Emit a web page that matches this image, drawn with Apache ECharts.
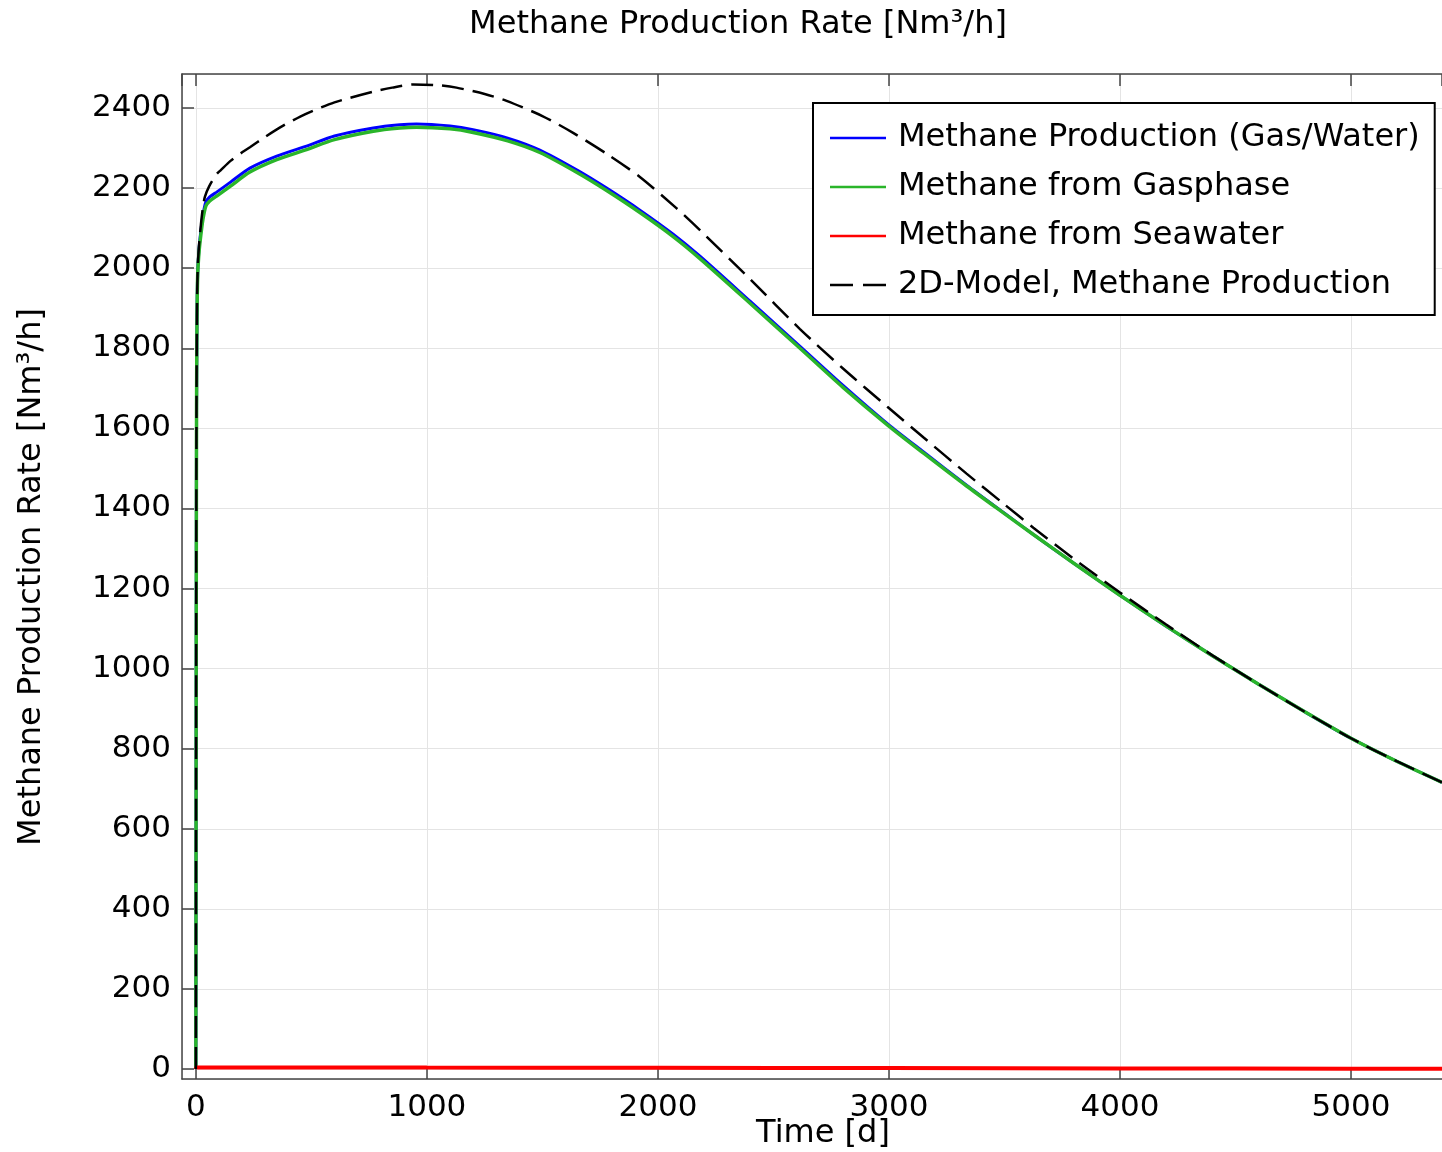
<!DOCTYPE html>
<html>
<head>
<meta charset="utf-8">
<title>Methane Production Rate</title>
<script src="https://cdn.jsdelivr.net/npm/echarts@6/dist/echarts.min.js"></script>
<style>
  html, body { margin: 0; padding: 0; background: #fff; }
  #chart { width: 1442px; height: 1152px; }
</style>
</head>
<body>
<div id="chart"></div>
<script>
// time [d] shared by the 1D curves (gas/water total and gasphase)
const days = [0, 1, 2, 3, 5, 8, 14, 22, 30, 43, 60, 90, 150, 234, 350, 479, 600, 768, 883, 955,
  1100, 1200, 1350, 1489, 1650, 1778, 1922, 2066, 2182, 2400, 2615, 2800, 2997, 3150, 3336,
  3500, 3625, 3800, 4000, 4200, 4400, 4600, 4800, 5000, 5200, 5394];
const gasWater = [0, 700, 1300, 1650, 1880, 1990, 2050, 2095, 2130, 2165, 2178, 2190, 2215, 2250, 2280, 2305, 2330, 2350, 2358, 2360,
  2355, 2346, 2325, 2295, 2245, 2200, 2145, 2085, 2030, 1917, 1805, 1708, 1610, 1541, 1458,
  1388, 1335, 1263, 1183, 1106, 1032, 961, 892, 826, 768, 716];
const gasphase = [0, 700, 1300, 1650, 1880, 1985, 2042, 2085, 2120, 2155, 2168, 2180, 2205, 2240, 2271, 2296, 2321, 2342, 2350, 2352,
  2348, 2339, 2318, 2289, 2239, 2194, 2139, 2079, 2024, 1912, 1800, 1703, 1607, 1538, 1456,
  1387, 1335, 1263, 1183, 1106, 1032, 961, 892, 826, 768, 716];

const seaDays = [0, 3, 500, 1000, 2000, 3000, 4000, 5000, 5394];
const seawater = [0, 4, 4, 3.5, 3, 2.3, 1.5, 0.8, 0.5];

const modelDays = [0, 1, 2, 3, 5, 8, 14, 22, 30, 39, 58, 90, 108, 150, 202, 234, 300, 378, 479, 600,
  768, 850, 941, 1050, 1128, 1250, 1345, 1500, 1633, 1780, 1922, 2080, 2182, 2400, 2615, 2800,
  2997, 3150, 3336, 3500, 3625, 3800, 4000, 4200, 4400, 4600, 4800, 5000, 5200, 5394];
const model2D = [0, 800, 1400, 1700, 1900, 2000, 2060, 2110, 2150, 2178, 2205, 2235, 2245, 2268, 2290, 2302, 2328, 2356, 2386, 2414,
  2441, 2451, 2459, 2457, 2451, 2435, 2418, 2380, 2338, 2285, 2228, 2150, 2095, 1972, 1848, 1750,
  1652, 1577, 1487, 1410, 1352, 1274, 1190, 1110, 1033, 961, 892, 826, 768, 716];

const names = [
  'Methane Production (Gas/Water)',
  'Methane from Gasphase',
  'Methane from Seawater',
  '2D-Model, Methane Production'
];

const pairs = (xs, ys) => xs.map((x, i) => [x, ys[i]]);
const FONT = 'DejaVu Sans';
const SOLID_ICON = 'path://M0,0h56v3h-56z';
const DASH_ICON = 'path://M0,0h23v3h-23z M33,0h23v3h-23z';

const chart = echarts.init(document.getElementById('chart'));

const option = {
  backgroundColor: '#fff',
  animation: false,
  grid: { left: 182, right: 0, top: 74, bottom: 73 },
  legend: {
    orient: 'vertical',
    left: 813,
    top: 103,
    backgroundColor: '#fff',
    borderColor: '#000',
    borderWidth: 2,
    borderRadius: 0,
    padding: [18, 15, 13, 17],
    itemGap: 15,
    itemWidth: 56,
    itemHeight: 2.5,
    symbolKeepAspect: false,
    textStyle: { fontFamily: FONT, fontSize: 32, color: '#000', lineHeight: 34, padding: [0, 0, 0, 7] },
    data: [
      { name: names[0], icon: SOLID_ICON },
      { name: names[1], icon: SOLID_ICON },
      { name: names[2], icon: SOLID_ICON },
      { name: names[3], icon: DASH_ICON }
    ]
  },
  xAxis: [
    {
      type: 'value',
      min: -60,
      max: 5394,
      splitNumber: 5,
      axisLine: { onZero: false, lineStyle: { color: '#444', width: 1.5 } },
      axisTick: { inside: true, length: 12, lineStyle: { color: '#444', width: 1.5 } },
      axisLabel: { showMinLabel: false, showMaxLabel: false, margin: 13, fontFamily: FONT, fontSize: 31, color: '#000',
        formatter: v => String(v) },
      splitLine: { show: true, lineStyle: { color: '#e4e4e4', width: 1 } }
    },
    {
      type: 'value',
      position: 'top',
      min: -60,
      max: 5394,
      splitNumber: 5,
      axisLine: { onZero: false, lineStyle: { color: '#444', width: 1.5 } },
      axisTick: { inside: true, length: 12, lineStyle: { color: '#444', width: 1.5 } },
      axisLabel: { show: false },
      splitLine: { show: false }
    }
  ],
  yAxis: {
    type: 'value',
    min: -25,
    max: 2485,
    splitNumber: 12,
    axisLine: { show: true, onZero: false, lineStyle: { color: '#444', width: 1.5 } },
    axisTick: { show: true, inside: true, length: 12, lineStyle: { color: '#444', width: 1.5 } },
    axisLabel: { showMinLabel: false, showMaxLabel: false, margin: 11, fontFamily: FONT, fontSize: 31, color: '#000',
      formatter: v => String(v) },
    splitLine: { show: true, lineStyle: { color: '#e4e4e4', width: 1 } }
  },
  series: [
    {
      name: names[0], type: 'line', symbol: 'none', smooth: 0.25,
      data: pairs(days, gasWater), color: '#0000ff',
      lineStyle: { color: '#0000ff', width: 3 }
    },
    {
      name: names[1], type: 'line', symbol: 'none', smooth: 0.25,
      data: pairs(days, gasphase), color: '#2ab52a',
      lineStyle: { color: '#2ab52a', width: 3.5 }
    },
    {
      name: names[2], type: 'line', symbol: 'none', smooth: 0.25,
      data: pairs(seaDays, seawater), color: '#ff0000',
      lineStyle: { color: '#ff0000', width: 4 }
    },
    {
      name: names[3], type: 'line', symbol: 'none', smooth: 0.25,
      data: pairs(modelDays, model2D), color: '#000',
      lineStyle: { color: '#000', width: 2.5, type: [22, 9] }
    }
  ],
  graphic: [
    {
      type: 'text', x: 738, y: 25,
      style: { text: 'Methane Production Rate [Nm³/h]', font: '32px "DejaVu Sans"', fill: '#000', textAlign: 'center', textVerticalAlign: 'middle' }
    },
    {
      type: 'text', x: 823, y: 1134,
      style: { text: 'Time [d]', font: '32px "DejaVu Sans"', fill: '#000', textAlign: 'center', textVerticalAlign: 'middle' }
    },
    {
      type: 'text', x: 32, y: 577, rotation: Math.PI / 2,
      style: { text: 'Methane Production Rate [Nm³/h]', font: '32px "DejaVu Sans"', fill: '#000', textAlign: 'center', textVerticalAlign: 'middle' }
    }
  ]
};

chart.setOption(option);
</script>
</body>
</html>
